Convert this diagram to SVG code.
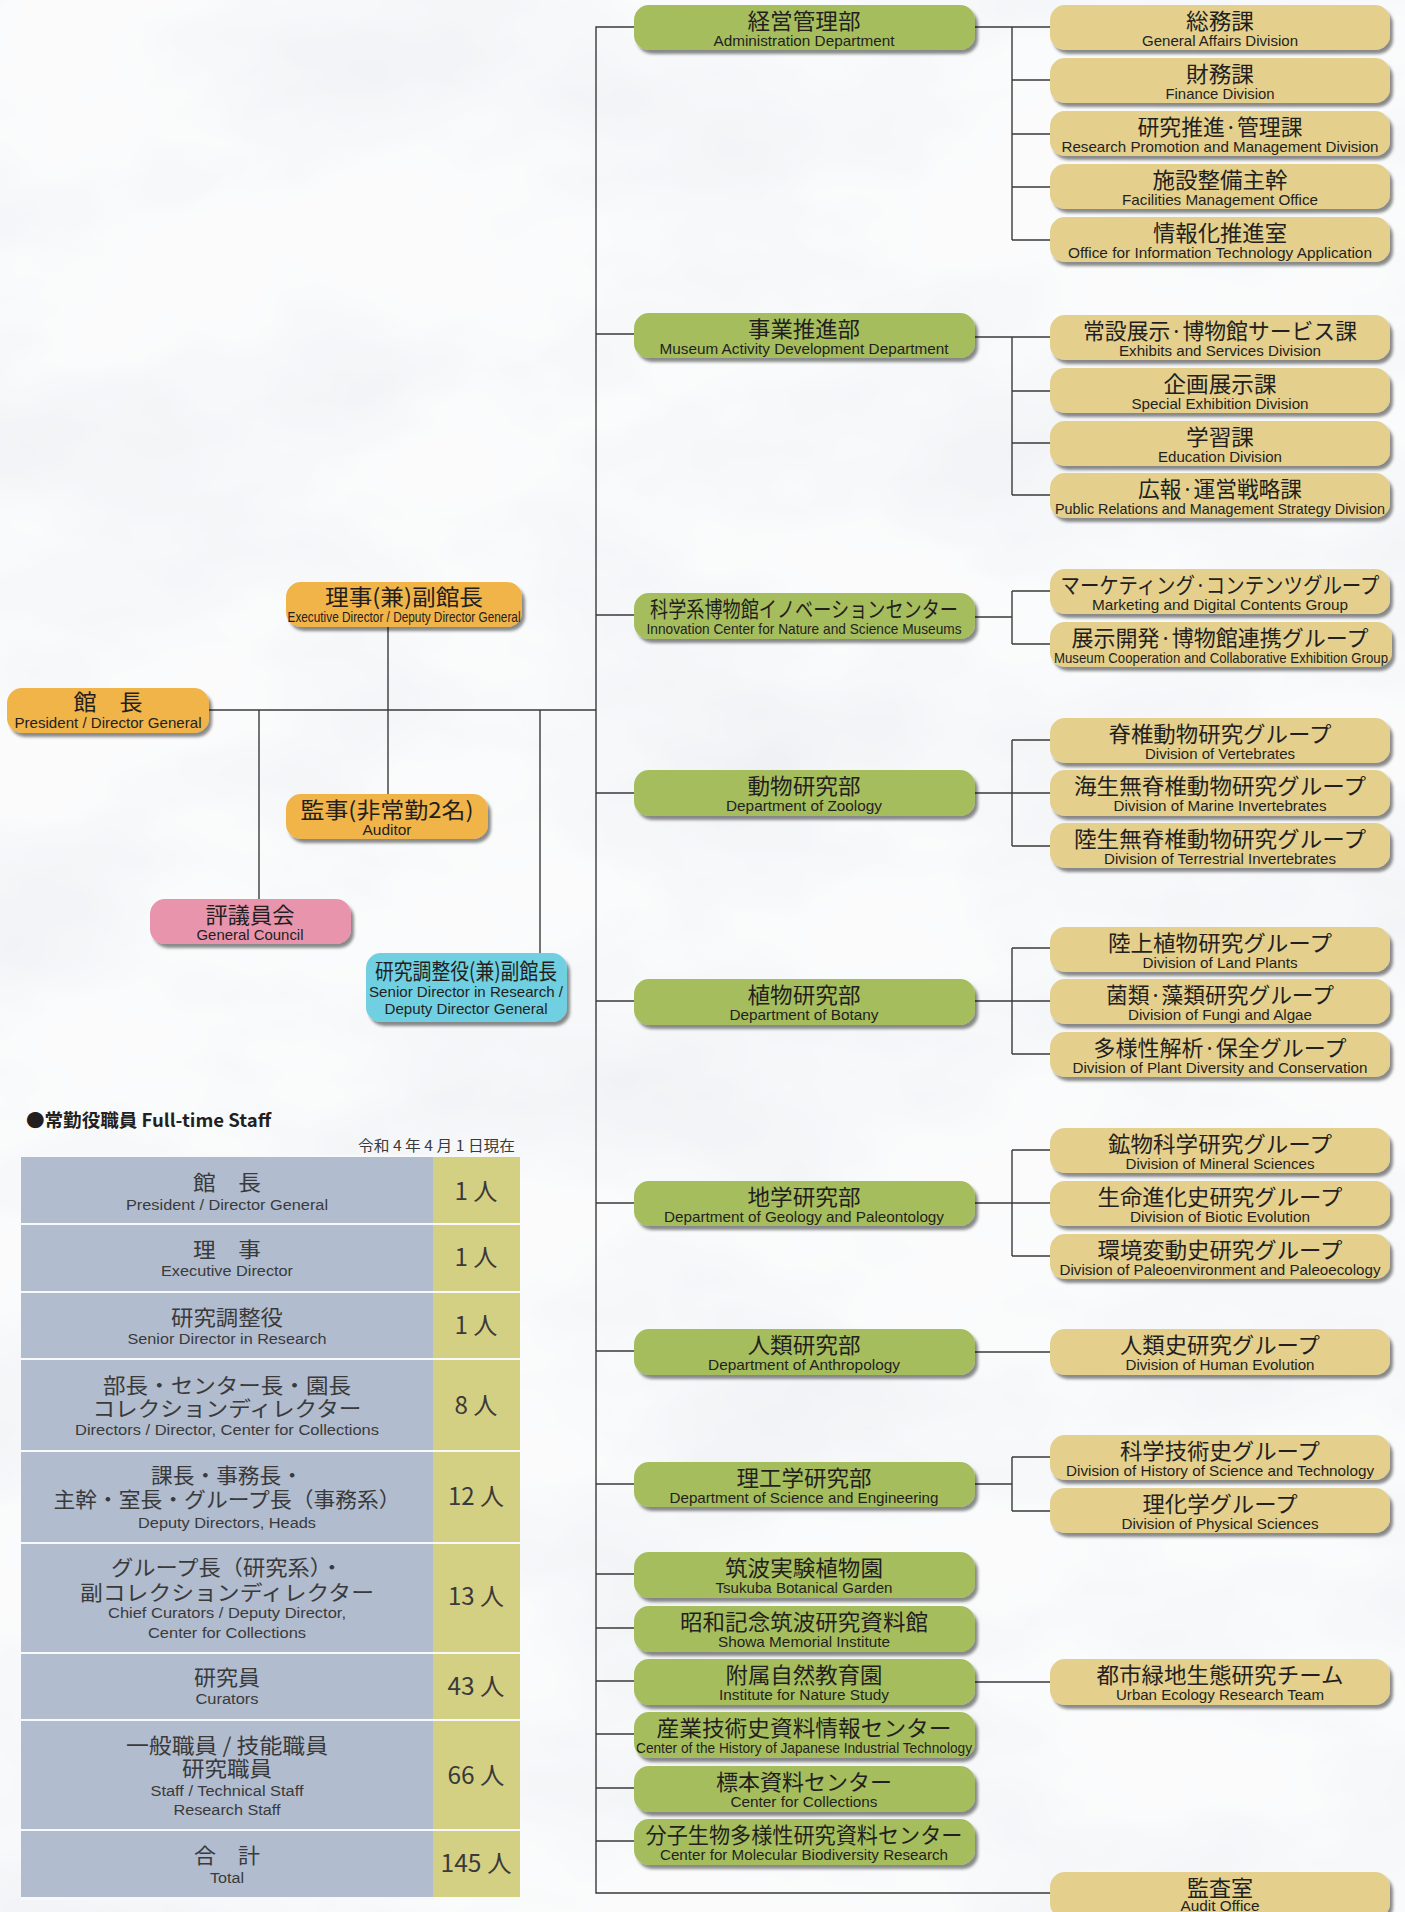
<svg xmlns="http://www.w3.org/2000/svg" width="1405" height="1912" viewBox="0 0 1405 1912">
<defs>
<filter id="marble" x="0" y="0" width="100%" height="100%">
<feTurbulence type="fractalNoise" baseFrequency="0.0035 0.006" numOctaves="4" seed="11"/>
<feColorMatrix type="matrix" values="0.22 0 0 0 0.85  0.22 0 0 0 0.86  0.17 0 0 0 0.89  0 0 0 0 1"/>
</filter>
<filter id="sh" x="-5%" y="-20%" width="115%" height="160%">
<feDropShadow dx="3" dy="4" stdDeviation="1.8" flood-color="#000" flood-opacity="0.45"/>
</filter>
<style>
.g{fill:#a6bd5d}
.y{fill:#e4cf8c}
.o{fill:#f0b449}
.p{fill:#e894ad}
.c{fill:#70cfe0}
.bx{filter:url(#sh)}
.jp{font-family:"Noto Sans CJK JP",sans-serif;font-size:22px;fill:#231f20;text-anchor:middle}
.en{font-family:"Liberation Sans",Arial,sans-serif;font-size:14.5px;fill:#231f20;text-anchor:middle}
.ln{stroke:#3a3a3a;stroke-width:1.4;fill:none}
.tl{fill:#b1bccf}
.tn{fill:#d4d083}
.tj{font-family:"Noto Sans CJK JP",sans-serif;font-size:21px;fill:#3a3a3a;text-anchor:middle}
.te{font-family:"Liberation Sans",Arial,sans-serif;font-size:15.5px;fill:#3a3a3a;text-anchor:middle}
.tnum{font-family:"Noto Sans CJK JP",sans-serif;font-size:24px;fill:#3a3a3a;text-anchor:middle}
</style>
</defs>
<rect x="0" y="0" width="1405" height="1912" fill="#f3f4f7"/>
<rect x="0" y="0" width="1405" height="1912" filter="url(#marble)" opacity="0.7"/>

<g id="connectors" class="ln">
<path d="M634,27 H596 V1893 H1050"/>
<path d="M209,710 H596"/>
<path d="M259,710 V899"/>
<path d="M388,627 V794"/>
<path d="M540,710 V953"/>
<path d="M596,334 H634 M596,615 H634 M596,793 H634 M596,1001 H634 M596,1203 H634 M596,1351 H634 M596,1484 H634 M596,1574 H634 M596,1628 H634 M596,1681 H634 M596,1734 H634 M596,1788 H634 M596,1841 H634"/>
<path d="M975,27 H1050 M1012,27 V240 M1012,80 H1050 M1012,134 H1050 M1012,187 H1050 M1012,240 H1050"/>
<path d="M975,337 H1050 M1012,337 V495 M1012,391 H1050 M1012,443 H1050 M1012,495 H1050"/>
<path d="M975,617 H1012 M1012,591 V644 M1012,591 H1050 M1012,644 H1050"/>
<path d="M975,793 H1050 M1012,740 V846 M1012,740 H1050 M1012,846 H1050"/>
<path d="M975,1001 H1050 M1012,948 V1054 M1012,948 H1050 M1012,1054 H1050"/>
<path d="M975,1203 H1050 M1012,1150 V1256 M1012,1150 H1050 M1012,1256 H1050"/>
<path d="M975,1352 H1050"/>
<path d="M975,1484 H1012 M1012,1457 V1511 M1012,1457 H1050 M1012,1511 H1050"/>
<path d="M975,1682 H1050"/>
</g>

<!-- left nodes -->
<g id="n-president"><rect class="o bx" x="7" y="688" width="202" height="45" rx="15"/><text class="jp" x="108" y="710" textLength="69" lengthAdjust="spacingAndGlyphs">館　長</text><text class="en" x="108" y="728" textLength="187" lengthAdjust="spacingAndGlyphs">President / Director General</text></g>
<g id="n-exec"><rect class="o bx" x="286" y="582" width="236" height="45" rx="15"/><text class="jp" x="404" y="605" textLength="158" lengthAdjust="spacingAndGlyphs">理事(兼)副館長</text><text class="en" x="404" y="622" textLength="233" lengthAdjust="spacingAndGlyphs">Executive Director / Deputy Director General</text></g>
<g id="n-auditor"><rect class="o bx" x="286" y="794" width="202" height="45" rx="15"/><text class="jp" x="387" y="818" textLength="173" lengthAdjust="spacingAndGlyphs">監事(非常勤2名)</text><text class="en" x="387" y="835" textLength="49" lengthAdjust="spacingAndGlyphs">Auditor</text></g>
<g id="n-council"><rect class="p bx" x="150" y="899" width="201" height="45" rx="15"/><text class="jp" x="250" y="923" textLength="89" lengthAdjust="spacingAndGlyphs">評議員会</text><text class="en" x="250" y="940" textLength="107" lengthAdjust="spacingAndGlyphs">General Council</text></g>
<g id="n-senior"><rect class="c bx" x="366" y="953" width="201" height="69" rx="15"/><text class="jp" x="466" y="979" textLength="182" lengthAdjust="spacingAndGlyphs">研究調整役(兼)副館長</text><text class="en" x="466" y="997" textLength="194" lengthAdjust="spacingAndGlyphs">Senior Director in Research /</text><text class="en" x="466" y="1014" textLength="163" lengthAdjust="spacingAndGlyphs">Deputy Director General</text></g>

<!-- green departments -->
<g id="d-admin"><rect class="g bx" x="634" y="5" width="341" height="45" rx="15"/><text class="jp" x="804" y="29" textLength="113" lengthAdjust="spacingAndGlyphs">経営管理部</text><text class="en" x="804" y="46" textLength="181" lengthAdjust="spacingAndGlyphs">Administration Department</text></g>
<g id="d-museum"><rect class="g bx" x="634" y="313" width="341" height="45" rx="15"/><text class="jp" x="804" y="337" textLength="112" lengthAdjust="spacingAndGlyphs">事業推進部</text><text class="en" x="804" y="354" textLength="289" lengthAdjust="spacingAndGlyphs">Museum Activity Development Department</text></g>
<g id="d-innov"><rect class="g bx" x="634" y="593" width="341" height="46" rx="15"/><text class="jp" x="804" y="617" textLength="308" lengthAdjust="spacingAndGlyphs">科学系博物館イノベーションセンター</text><text class="en" x="804" y="634" textLength="315" lengthAdjust="spacingAndGlyphs">Innovation Center for Nature and Science Museums</text></g>
<g id="d-zoo"><rect class="g bx" x="634" y="770" width="341" height="46" rx="15"/><text class="jp" x="804" y="794" textLength="113" lengthAdjust="spacingAndGlyphs">動物研究部</text><text class="en" x="804" y="811" textLength="156" lengthAdjust="spacingAndGlyphs">Department of Zoology</text></g>
<g id="d-bot"><rect class="g bx" x="634" y="979" width="341" height="46" rx="15"/><text class="jp" x="804" y="1003" textLength="113" lengthAdjust="spacingAndGlyphs">植物研究部</text><text class="en" x="804" y="1020" textLength="149" lengthAdjust="spacingAndGlyphs">Department of Botany</text></g>
<g id="d-geo"><rect class="g bx" x="634" y="1181" width="341" height="45" rx="15"/><text class="jp" x="804" y="1205" textLength="113" lengthAdjust="spacingAndGlyphs">地学研究部</text><text class="en" x="804" y="1222" textLength="280" lengthAdjust="spacingAndGlyphs">Department of Geology and Paleontology</text></g>
<g id="d-anth"><rect class="g bx" x="634" y="1329" width="341" height="46" rx="15"/><text class="jp" x="804" y="1353" textLength="113" lengthAdjust="spacingAndGlyphs">人類研究部</text><text class="en" x="804" y="1370" textLength="192" lengthAdjust="spacingAndGlyphs">Department of Anthropology</text></g>
<g id="d-eng"><rect class="g bx" x="634" y="1462" width="341" height="45" rx="15"/><text class="jp" x="804" y="1486" textLength="135" lengthAdjust="spacingAndGlyphs">理工学研究部</text><text class="en" x="804" y="1503" textLength="269" lengthAdjust="spacingAndGlyphs">Department of Science and Engineering</text></g>
<g id="d-tsukuba"><rect class="g bx" x="634" y="1552" width="341" height="46" rx="15"/><text class="jp" x="804" y="1576" textLength="158" lengthAdjust="spacingAndGlyphs">筑波実験植物園</text><text class="en" x="804" y="1593" textLength="177" lengthAdjust="spacingAndGlyphs">Tsukuba Botanical Garden</text></g>
<g id="d-showa"><rect class="g bx" x="634" y="1606" width="341" height="46" rx="15"/><text class="jp" x="804" y="1630" textLength="248" lengthAdjust="spacingAndGlyphs">昭和記念筑波研究資料館</text><text class="en" x="804" y="1647" textLength="172" lengthAdjust="spacingAndGlyphs">Showa Memorial Institute</text></g>
<g id="d-nature"><rect class="g bx" x="634" y="1659" width="341" height="46" rx="15"/><text class="jp" x="804" y="1683" textLength="157" lengthAdjust="spacingAndGlyphs">附属自然教育園</text><text class="en" x="804" y="1700" textLength="170" lengthAdjust="spacingAndGlyphs">Institute for Nature Study</text></g>
<g id="d-industrial"><rect class="g bx" x="634" y="1712" width="341" height="46" rx="15"/><text class="jp" x="804" y="1736" textLength="295" lengthAdjust="spacingAndGlyphs">産業技術史資料情報センター</text><text class="en" x="804" y="1753" textLength="336" lengthAdjust="spacingAndGlyphs">Center of the History of Japanese Industrial Technology</text></g>
<g id="d-collections"><rect class="g bx" x="634" y="1766" width="341" height="46" rx="15"/><text class="jp" x="804" y="1790" textLength="176" lengthAdjust="spacingAndGlyphs">標本資料センター</text><text class="en" x="804" y="1807" textLength="147" lengthAdjust="spacingAndGlyphs">Center for Collections</text></g>
<g id="d-molecular"><rect class="g bx" x="634" y="1819" width="341" height="46" rx="15"/><text class="jp" x="804" y="1843" textLength="317" lengthAdjust="spacingAndGlyphs">分子生物多様性研究資料センター</text><text class="en" x="804" y="1860" textLength="288" lengthAdjust="spacingAndGlyphs">Center for Molecular Biodiversity Research</text></g>

<!-- yellow divisions -->
<g id="v-general"><rect class="y bx" x="1050" y="5" width="340" height="45" rx="15"/><text class="jp" x="1220" y="29" textLength="68" lengthAdjust="spacingAndGlyphs">総務課</text><text class="en" x="1220" y="46" textLength="156" lengthAdjust="spacingAndGlyphs">General Affairs Division</text></g>
<g id="v-finance"><rect class="y bx" x="1050" y="58" width="340" height="45" rx="15"/><text class="jp" x="1220" y="82" textLength="68" lengthAdjust="spacingAndGlyphs">財務課</text><text class="en" x="1220" y="99" textLength="109" lengthAdjust="spacingAndGlyphs">Finance Division</text></g>
<g id="v-research"><rect class="y bx" x="1050" y="111" width="340" height="45" rx="15"/><text class="jp" x="1220" y="135" textLength="165" lengthAdjust="spacingAndGlyphs">研究推進·管理課</text><text class="en" x="1220" y="152" textLength="317" lengthAdjust="spacingAndGlyphs">Research Promotion and Management Division</text></g>
<g id="v-facilities"><rect class="y bx" x="1050" y="164" width="340" height="45" rx="15"/><text class="jp" x="1220" y="188" textLength="135" lengthAdjust="spacingAndGlyphs">施設整備主幹</text><text class="en" x="1220" y="205" textLength="196" lengthAdjust="spacingAndGlyphs">Facilities Management Office</text></g>
<g id="v-it"><rect class="y bx" x="1050" y="217" width="340" height="45" rx="15"/><text class="jp" x="1220" y="241" textLength="134" lengthAdjust="spacingAndGlyphs">情報化推進室</text><text class="en" x="1220" y="258" textLength="304" lengthAdjust="spacingAndGlyphs">Office for Information Technology Application</text></g>

<g id="v-exhibits"><rect class="y bx" x="1050" y="315" width="340" height="45" rx="15"/><text class="jp" x="1220" y="339" textLength="274" lengthAdjust="spacingAndGlyphs">常設展示·博物館サービス課</text><text class="en" x="1220" y="356" textLength="202" lengthAdjust="spacingAndGlyphs">Exhibits and Services Division</text></g>
<g id="v-special"><rect class="y bx" x="1050" y="368" width="340" height="45" rx="15"/><text class="jp" x="1220" y="392" textLength="113" lengthAdjust="spacingAndGlyphs">企画展示課</text><text class="en" x="1220" y="409" textLength="177" lengthAdjust="spacingAndGlyphs">Special Exhibition Division</text></g>
<g id="v-education"><rect class="y bx" x="1050" y="421" width="340" height="45" rx="15"/><text class="jp" x="1220" y="445" textLength="68" lengthAdjust="spacingAndGlyphs">学習課</text><text class="en" x="1220" y="462" textLength="124" lengthAdjust="spacingAndGlyphs">Education Division</text></g>
<g id="v-pr"><rect class="y bx" x="1050" y="473" width="340" height="45" rx="15"/><text class="jp" x="1220" y="497" textLength="164" lengthAdjust="spacingAndGlyphs">広報·運営戦略課</text><text class="en" x="1220" y="514" textLength="330" lengthAdjust="spacingAndGlyphs">Public Relations and Management Strategy Division</text></g>

<g id="v-marketing"><rect class="y bx" x="1050" y="569" width="340" height="45" rx="15"/><text class="jp" x="1220" y="593" textLength="319" lengthAdjust="spacingAndGlyphs">マーケティング·コンテンツグループ</text><text class="en" x="1220" y="610" textLength="256" lengthAdjust="spacingAndGlyphs">Marketing and Digital Contents Group</text></g>
<g id="v-coop"><rect class="y bx" x="1050" y="622" width="342" height="45" rx="15"/><text class="jp" x="1220" y="646" textLength="297" lengthAdjust="spacingAndGlyphs">展示開発·博物館連携グループ</text><text class="en" x="1221" y="663" textLength="334" lengthAdjust="spacingAndGlyphs">Museum Cooperation and Collaborative Exhibition Group</text></g>

<g id="v-vert"><rect class="y bx" x="1050" y="718" width="340" height="45" rx="15"/><text class="jp" x="1220" y="742" textLength="223" lengthAdjust="spacingAndGlyphs">脊椎動物研究グループ</text><text class="en" x="1220" y="759" textLength="150" lengthAdjust="spacingAndGlyphs">Division of Vertebrates</text></g>
<g id="v-marine"><rect class="y bx" x="1050" y="770" width="340" height="46" rx="15"/><text class="jp" x="1220" y="794" textLength="292" lengthAdjust="spacingAndGlyphs">海生無脊椎動物研究グループ</text><text class="en" x="1220" y="811" textLength="213" lengthAdjust="spacingAndGlyphs">Division of Marine Invertebrates</text></g>
<g id="v-terr"><rect class="y bx" x="1050" y="823" width="340" height="45" rx="15"/><text class="jp" x="1220" y="847" textLength="292" lengthAdjust="spacingAndGlyphs">陸生無脊椎動物研究グループ</text><text class="en" x="1220" y="864" textLength="232" lengthAdjust="spacingAndGlyphs">Division of Terrestrial Invertebrates</text></g>

<g id="v-land"><rect class="y bx" x="1050" y="927" width="340" height="45" rx="15"/><text class="jp" x="1220" y="951" textLength="224" lengthAdjust="spacingAndGlyphs">陸上植物研究グループ</text><text class="en" x="1220" y="968" textLength="155" lengthAdjust="spacingAndGlyphs">Division of Land Plants</text></g>
<g id="v-fungi"><rect class="y bx" x="1050" y="979" width="340" height="45" rx="15"/><text class="jp" x="1220" y="1003" textLength="228" lengthAdjust="spacingAndGlyphs">菌類·藻類研究グループ</text><text class="en" x="1220" y="1020" textLength="184" lengthAdjust="spacingAndGlyphs">Division of Fungi and Algae</text></g>
<g id="v-diversity"><rect class="y bx" x="1050" y="1032" width="340" height="45" rx="15"/><text class="jp" x="1220" y="1056" textLength="253" lengthAdjust="spacingAndGlyphs">多様性解析·保全グループ</text><text class="en" x="1220" y="1073" textLength="295" lengthAdjust="spacingAndGlyphs">Division of Plant Diversity and Conservation</text></g>

<g id="v-mineral"><rect class="y bx" x="1050" y="1128" width="340" height="45" rx="15"/><text class="jp" x="1220" y="1152" textLength="224" lengthAdjust="spacingAndGlyphs">鉱物科学研究グループ</text><text class="en" x="1220" y="1169" textLength="189" lengthAdjust="spacingAndGlyphs">Division of Mineral Sciences</text></g>
<g id="v-biotic"><rect class="y bx" x="1050" y="1181" width="340" height="45" rx="15"/><text class="jp" x="1220" y="1205" textLength="245" lengthAdjust="spacingAndGlyphs">生命進化史研究グループ</text><text class="en" x="1220" y="1222" textLength="180" lengthAdjust="spacingAndGlyphs">Division of Biotic Evolution</text></g>
<g id="v-paleo"><rect class="y bx" x="1050" y="1234" width="340" height="45" rx="15"/><text class="jp" x="1220" y="1258" textLength="245" lengthAdjust="spacingAndGlyphs">環境変動史研究グループ</text><text class="en" x="1220" y="1275" textLength="321" lengthAdjust="spacingAndGlyphs">Division of Paleoenvironment and Paleoecology</text></g>

<g id="v-human"><rect class="y bx" x="1050" y="1329" width="340" height="46" rx="15"/><text class="jp" x="1220" y="1353" textLength="200" lengthAdjust="spacingAndGlyphs">人類史研究グループ</text><text class="en" x="1220" y="1370" textLength="189" lengthAdjust="spacingAndGlyphs">Division of Human Evolution</text></g>

<g id="v-history"><rect class="y bx" x="1050" y="1435" width="340" height="45" rx="15"/><text class="jp" x="1220" y="1459" textLength="200" lengthAdjust="spacingAndGlyphs">科学技術史グループ</text><text class="en" x="1220" y="1476" textLength="308" lengthAdjust="spacingAndGlyphs">Division of History of Science and Technology</text></g>
<g id="v-physical"><rect class="y bx" x="1050" y="1488" width="340" height="45" rx="15"/><text class="jp" x="1220" y="1512" textLength="155" lengthAdjust="spacingAndGlyphs">理化学グループ</text><text class="en" x="1220" y="1529" textLength="197" lengthAdjust="spacingAndGlyphs">Division of Physical Sciences</text></g>

<g id="v-urban"><rect class="y bx" x="1050" y="1659" width="340" height="46" rx="15"/><text class="jp" x="1220" y="1683" textLength="247" lengthAdjust="spacingAndGlyphs">都市緑地生態研究チーム</text><text class="en" x="1220" y="1700" textLength="208" lengthAdjust="spacingAndGlyphs">Urban Ecology Research Team</text></g>

<g id="v-audit"><rect class="y bx" x="1050" y="1872" width="340" height="46" rx="15"/><text class="jp" x="1220" y="1896" textLength="66" lengthAdjust="spacingAndGlyphs">監査室</text><text class="en" x="1220" y="1911" textLength="79" lengthAdjust="spacingAndGlyphs">Audit Office</text></g>

<!-- staff table -->
<g id="staff-table">
<text x="26" y="1127" font-family="'Noto Sans CJK JP',sans-serif" font-size="18" font-weight="bold" fill="#231f20" textLength="245" lengthAdjust="spacingAndGlyphs">●常勤役職員 Full-time Staff</text>
<text x="515" y="1151" font-family="'Noto Sans CJK JP',sans-serif" font-size="14.5" fill="#3a3a3a" text-anchor="end" textLength="157" lengthAdjust="spacingAndGlyphs">令和 4 年 4 月 1 日現在</text>
<rect x="21" y="1155" width="499" height="745" fill="#f8f9fb"/>
<rect class="tl" x="21" y="1157" width="412" height="66"/><rect class="tn" x="433" y="1157" width="87" height="66"/>
<rect class="tl" x="21" y="1225" width="412" height="66"/><rect class="tn" x="433" y="1225" width="87" height="66"/>
<rect class="tl" x="21" y="1293" width="412" height="65"/><rect class="tn" x="433" y="1293" width="87" height="65"/>
<rect class="tl" x="21" y="1360" width="412" height="90"/><rect class="tn" x="433" y="1360" width="87" height="90"/>
<rect class="tl" x="21" y="1452" width="412" height="90"/><rect class="tn" x="433" y="1452" width="87" height="90"/>
<rect class="tl" x="21" y="1544" width="412" height="108"/><rect class="tn" x="433" y="1544" width="87" height="108"/>
<rect class="tl" x="21" y="1654" width="412" height="65"/><rect class="tn" x="433" y="1654" width="87" height="65"/>
<rect class="tl" x="21" y="1721" width="412" height="108"/><rect class="tn" x="433" y="1721" width="87" height="108"/>
<rect class="tl" x="21" y="1831" width="412" height="66"/><rect class="tn" x="433" y="1831" width="87" height="66"/>

<text class="tj" x="227" y="1190" textLength="68" lengthAdjust="spacingAndGlyphs">館　長</text>
<text class="te" x="227" y="1210" textLength="202" lengthAdjust="spacingAndGlyphs">President / Director General</text>
<text class="tnum" x="476" y="1200" textLength="43" lengthAdjust="spacingAndGlyphs">1 人</text>

<text class="tj" x="227" y="1257" textLength="68" lengthAdjust="spacingAndGlyphs">理　事</text>
<text class="te" x="227" y="1276" textLength="132" lengthAdjust="spacingAndGlyphs">Executive Director</text>
<text class="tnum" x="476" y="1266" textLength="43" lengthAdjust="spacingAndGlyphs">1 人</text>

<text class="tj" x="227" y="1325" textLength="112" lengthAdjust="spacingAndGlyphs">研究調整役</text>
<text class="te" x="227" y="1344" textLength="199" lengthAdjust="spacingAndGlyphs">Senior Director in Research</text>
<text class="tnum" x="476" y="1334" textLength="43" lengthAdjust="spacingAndGlyphs">1 人</text>

<text class="tj" x="227" y="1393" textLength="248" lengthAdjust="spacingAndGlyphs">部長・センター長・園長</text>
<text class="tj" x="227" y="1416" textLength="269" lengthAdjust="spacingAndGlyphs">コレクションディレクター</text>
<text class="te" x="227" y="1435" textLength="304" lengthAdjust="spacingAndGlyphs">Directors / Director, Center for Collections</text>
<text class="tnum" x="476" y="1414" textLength="43" lengthAdjust="spacingAndGlyphs">8 人</text>

<text class="tj" x="227" y="1483" textLength="152" lengthAdjust="spacingAndGlyphs">課長・事務長・</text>
<text class="tj" x="227" y="1507" textLength="347" lengthAdjust="spacingAndGlyphs">主幹・室長・グループ長（事務系）</text>
<text class="te" x="227" y="1528" textLength="178" lengthAdjust="spacingAndGlyphs">Deputy Directors, Heads</text>
<text class="tnum" x="476" y="1505" textLength="56" lengthAdjust="spacingAndGlyphs">12 人</text>

<text class="tj" x="227" y="1575" textLength="232" lengthAdjust="spacingAndGlyphs">グループ長（研究系）・</text>
<text class="tj" x="227" y="1600" textLength="294" lengthAdjust="spacingAndGlyphs">副コレクションディレクター</text>
<text class="te" x="227" y="1618" textLength="238" lengthAdjust="spacingAndGlyphs">Chief Curators / Deputy Director,</text>
<text class="te" x="227" y="1638" textLength="158" lengthAdjust="spacingAndGlyphs">Center for Collections</text>
<text class="tnum" x="476" y="1605" textLength="56" lengthAdjust="spacingAndGlyphs">13 人</text>

<text class="tj" x="227" y="1685" textLength="66" lengthAdjust="spacingAndGlyphs">研究員</text>
<text class="te" x="227" y="1704" textLength="63" lengthAdjust="spacingAndGlyphs">Curators</text>
<text class="tnum" x="476" y="1695" textLength="57" lengthAdjust="spacingAndGlyphs">43 人</text>

<text class="tj" x="227" y="1753" textLength="202" lengthAdjust="spacingAndGlyphs">一般職員 / 技能職員</text>
<text class="tj" x="227" y="1776" textLength="90" lengthAdjust="spacingAndGlyphs">研究職員</text>
<text class="te" x="227" y="1796" textLength="153" lengthAdjust="spacingAndGlyphs">Staff / Technical Staff</text>
<text class="te" x="227" y="1815" textLength="107" lengthAdjust="spacingAndGlyphs">Research Staff</text>
<text class="tnum" x="476" y="1784" textLength="57" lengthAdjust="spacingAndGlyphs">66 人</text>

<text class="tj" x="227" y="1863" textLength="66" lengthAdjust="spacingAndGlyphs">合　計</text>
<text class="te" x="227" y="1883" textLength="34" lengthAdjust="spacingAndGlyphs">Total</text>
<text class="tnum" x="476" y="1872" textLength="71" lengthAdjust="spacingAndGlyphs">145 人</text>
</g>
</svg>
